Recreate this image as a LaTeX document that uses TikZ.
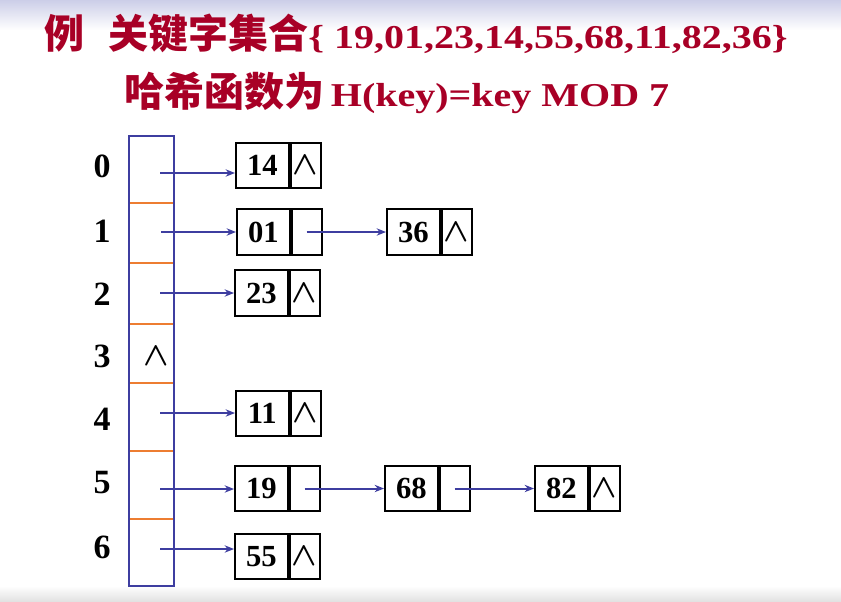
\documentclass[tikz,border=0pt]{standalone}
\usepackage{fontspec}
\usepackage{graphicx}
\setmainfont{Liberation Serif}
\newfontfamily\cjk{Noto Sans CJK SC Bold}
\usetikzlibrary{arrows.meta,positioning}
\definecolor{titlered}{RGB}{168,0,38}
\definecolor{linkblue}{RGB}{62,62,160}
\definecolor{sepor}{RGB}{237,125,49}
\definecolor{topband}{RGB}{204,206,232}
\definecolor{botband}{RGB}{226,226,226}
\tikzset{
  datf/.style={draw, line width=1.5pt, minimum width=39.5pt, minimum height=34pt,
    inner sep=0pt, font=\fontsize{23}{23}\selectfont\bfseries},
  ptrf/.style={draw, line width=1.5pt, minimum width=22.5pt, minimum height=34pt,
    inner sep=0pt, font=\fontsize{24}{24}\selectfont},
  idx/.style={font=\fontsize{25.5}{26}\selectfont\bfseries},
  head/.style={anchor=base west, text=titlered, inner sep=0pt,
    font=\fontsize{25}{30}\selectfont\bfseries},
  link/.style={linkblue, line width=1.5pt, -{Stealth[length=7pt, width=5.5pt]}},
}
\newcommand{\nil}{{\boldmath$\wedge$}}
\newcommand{\hz}[1]{{\cjk\fontsize{30}{30}\selectfont #1}}
\newcommand{\wide}[1]{\scalebox{1.2}[1]{#1}}
\begin{document}
\begin{tikzpicture}[x=0.75pt, y=-0.75pt, line cap=butt, line join=miter]
  \useasboundingbox (0,0) rectangle (841,601);

  % Background bands
  \shade[top color=topband, bottom color=white] (0,0) rectangle (841,30);
  \shade[top color=white, bottom color=botband] (0,586) rectangle (841,601);

  % Title
  \node[head] (t1) at (44,48)
    {\hz{例}\hspace{18pt}\hz{关键字集合}\wide{\{ 19,01,23,14,55,68,11,82,36\}}};
  \node[head] (t2) at (124,106)
    {\hz{哈希函数为}\hspace{5pt}\wide{H(key)=key MOD 7}};

  % Hash table column
  \draw[linkblue, line width=1.6pt] (129,136) rectangle (174,586);
  \foreach \y in {203,263,324,383,451,519}
    \draw[sepor, line width=1.6pt] (130,\y) -- (173,\y);
  \node[font=\fontsize{24}{24}\selectfont] (n3) at (156,356) {\nil};

  % Row numbers
  \foreach \i/\y in {0/166,1/231,2/294,3/356,4/419,5/483,6/547}
    \node[idx] (r\i) at (102,\y) {\i};

  % Lists
  \node[datf, anchor=west] (k14) at (235,165.5) {14};
  \node[ptrf, right=0pt of k14] (p14) {\nil};

  \node[datf, anchor=west] (k01) at (236,232) {01};
  \node[ptrf, right=0pt of k01] (p01) {};
  \node[datf, anchor=west] (k36) at (386,232) {36};
  \node[ptrf, right=0pt of k36] (p36) {\nil};

  \node[datf, anchor=west] (k23) at (234,293) {23};
  \node[ptrf, right=0pt of k23] (p23) {\nil};

  \node[datf, anchor=west] (k11) at (235,413.5) {11};
  \node[ptrf, right=0pt of k11] (p11) {\nil};

  \node[datf, anchor=west] (k19) at (234,488.5) {19};
  \node[ptrf, right=0pt of k19] (p19) {};
  \node[datf, anchor=west] (k68) at (384,488.5) {68};
  \node[ptrf, right=0pt of k68] (p68) {};
  \node[datf, anchor=west] (k82) at (534,488.5) {82};
  \node[ptrf, right=0pt of k82] (p82) {\nil};

  \node[datf, anchor=west] (k55) at (234,556.5) {55};
  \node[ptrf, right=0pt of k55] (p55) {\nil};

  % Pointer starts in the table
  \coordinate (s0) at (160,173);
  \coordinate (s1) at (161,232);
  \coordinate (s2) at (160,293);
  \coordinate (s4) at (160,413);
  \coordinate (s5) at (160,489);
  \coordinate (s6) at (160,549);

  % Links
  \draw[link] (s0) -- (s0 -| k14.west);
  \draw[link] (s1) -- (s1 -| k01.west);
  \draw[link] (s2) -- (s2 -| k23.west);
  \draw[link] (s4) -- (s4 -| k11.west);
  \draw[link] (s5) -- (s5 -| k19.west);
  \draw[link] (s6) -- (s6 -| k55.west);
  \draw[link] (p01.center) -- (k36.west);
  \draw[link] (p19.center) -- (k68.west);
  \draw[link] (p68.center) -- (k82.west);
\end{tikzpicture}
\end{document}
